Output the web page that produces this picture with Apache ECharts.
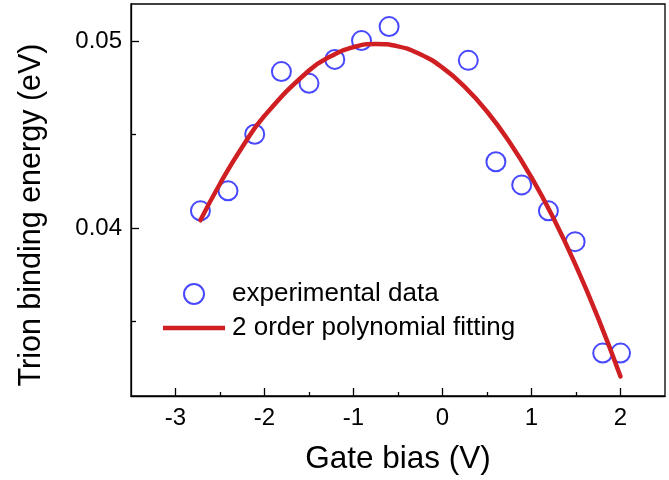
<!DOCTYPE html>
<html>
<head>
<meta charset="utf-8">
<script src="https://cdn.jsdelivr.net/npm/echarts@6/dist/echarts.min.js"></script>
<style>html,body{margin:0;padding:0;background:#fff}#c{width:669px;height:480px}</style>
</head>
<body>
<div id="c"></div>
<script>
// Experimental data (gate bias V, trion binding energy eV)
var expX = [-2.72, -2.41, -2.11, -1.81, -1.50, -1.21, -0.91, -0.60, 0.29, 0.60, 0.89, 1.19, 1.49, 1.80, 2.00];
var expY = [0.04092, 0.04199, 0.04502, 0.04838, 0.04775, 0.04903, 0.05004, 0.05079, 0.04898, 0.04355, 0.04231, 0.04092, 0.03927, 0.03330, 0.03330];
// Fitted curve
var fitX = [-2.72, -2.5, -2.25, -2, -1.5, -1.25, -1, -0.75, -0.5, -0.25, 0, 0.25, 0.5, 0.75, 1, 1.25, 1.5, 1.75, 2];
var fitY = [0.04041, 0.04237, 0.04434, 0.04601, 0.04844, 0.04921, 0.04969, 0.04986, 0.04973, 0.04931, 0.04859, 0.04756, 0.04624, 0.04462, 0.04271, 0.04049, 0.03797, 0.03516, 0.03205];
var xMajor = [-3, -2, -1, 0, 1, 2];
var xMinor = [-2.5, -1.5, -0.5, 0.5, 1.5];
var yMajor = [0.04, 0.05];
var yMinor = [0.035, 0.045];

var font = "'Liberation Sans', Arial, sans-serif";
function pairs(xs, ys){ return xs.map(function(x,i){ return [x, ys[i]]; }); }

var chart = echarts.init(document.getElementById('c'));
var axisLine = {show:true, onZero:false, lineStyle:{color:'#000', width:1.3}};
chart.setOption({
  animation:false,
  grid:{left:131, right:4, top:4, bottom:84, show:true, borderColor:'#000', borderWidth:1.3, containLabel:false},
  legend:{
    orient:'vertical', left:158, top:276, itemWidth:62, itemHeight:20, itemGap:8,
    textStyle:{fontFamily:font, fontSize:26, color:'#000', padding:[0,0,0,2]},
    data:[
      {name:'experimental data'},
      {name:'2 order polynomial fitting', icon:'path://M0,0 L62,0 L62,4.5 L0,4.5 Z', itemStyle:{color:'#d01f22', borderWidth:0}}
    ]
  },
  xAxis:[{
    type:'value', min:-3.5, max:2.5, position:'bottom',
    axisLine:axisLine, splitLine:{show:false},
    axisTick:{show:true, inside:true, length:8, customValues:xMajor, lineStyle:{color:'#000', width:1.3}},
    axisLabel:{customValues:xMajor, margin:10, fontFamily:font, fontSize:24, color:'#000'},
    name:'Gate bias (V)', nameLocation:'middle', nameGap:47,
    nameTextStyle:{fontFamily:font, fontSize:31.5, color:'#000'}
  },{
    type:'value', min:-3.5, max:2.5, position:'bottom',
    axisLine:{show:false, onZero:false}, splitLine:{show:false}, axisLabel:{show:false},
    axisTick:{show:true, inside:true, length:4, customValues:xMinor, lineStyle:{color:'#000', width:1.3}}
  }],
  yAxis:[{
    type:'value', min:0.031, max:0.052, position:'left',
    axisLine:axisLine, splitLine:{show:false},
    axisTick:{show:true, inside:true, length:8, customValues:yMajor, lineStyle:{color:'#000', width:1.3}},
    axisLabel:{customValues:yMajor, margin:9, fontFamily:font, fontSize:24, color:'#000',
      formatter:function(v){return v.toFixed(2);}},
    name:'Trion binding energy (eV)', nameLocation:'middle', nameGap:84,
    nameTextStyle:{fontFamily:font, fontSize:30.5, color:'#000', padding:[0,30,0,0]}
  },{
    type:'value', min:0.031, max:0.052, position:'left',
    axisLine:{show:false, onZero:false}, splitLine:{show:false}, axisLabel:{show:false},
    axisTick:{show:true, inside:true, length:5, customValues:yMinor, lineStyle:{color:'#000', width:1.3}}
  }],
  series:[{
    name:'experimental data', type:'scatter', symbol:'emptyCircle', symbolSize:19,
    itemStyle:{color:'#1a1aff', borderColor:'#1a1aff', borderWidth:1.3},
    data:pairs(expX, expY), z:3
  },{
    name:'2 order polynomial fitting', type:'line', smooth:0.5, symbol:'none', showSymbol:false,
    lineStyle:{color:'#d01f22', width:4.5, cap:'round'}, itemStyle:{color:'#d01f22'},
    data:pairs(fitX, fitY), z:4
  }]
});
</script>
</body>
</html>
